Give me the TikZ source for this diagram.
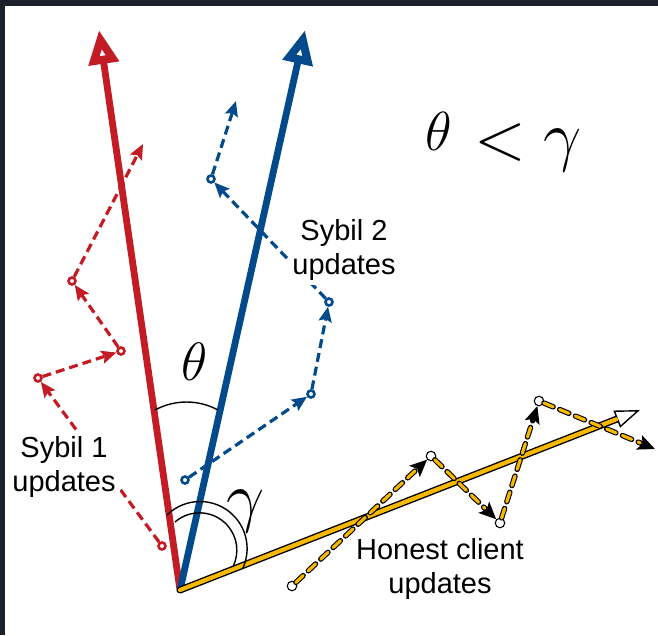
\RequirePackage{fix-cm}
\documentclass[tikz,border=0pt]{standalone}
\usepackage{fontspec}
\setmainfont{Liberation Sans}
\usetikzlibrary{arrows.meta}
\definecolor{sred}{RGB}{196,28,36}
\definecolor{sblue}{RGB}{2,74,140}
\definecolor{hyel}{RGB}{247,184,0}
\definecolor{framec}{RGB}{28,32,43}
\begin{document}
\begin{tikzpicture}[x=1pt,y=-1pt,
  mainvec/.style={line width=6.8pt, -{Triangle[length=34pt,width=29pt,line width=8pt,fill=white]}},
  syb/.style={line width=3.2pt, dash pattern=on 9pt off 5pt, -{Stealth[length=15pt,width=13pt,inset=2.5pt]}},
  sdot/.style={circle, draw, line width=2.6pt, fill=white, inner sep=0pt, minimum size=7pt},
  hdot/.style={circle, draw=black, line width=1.1pt, fill=white, inner sep=0pt, minimum size=9.5pt},
  hon/.style={draw=black, line width=5.4pt, dash pattern=on 10pt off 7pt, line cap=round,
    -{Stealth[length=17pt,width=15pt,inset=3.5pt]},
    postaction={draw=hyel, line width=3.2pt, dash pattern=on 10pt off 7pt, line cap=round, -, shorten >=16pt}},
  lab/.style={font=\fontsize{29}{34}\selectfont, align=center, fill=white, inner sep=4pt},
  ang/.style={line width=1.4pt, black}]
\useasboundingbox (0,0) rectangle (658,635);
\fill[white] (0,0) rectangle (658,635);
\fill[framec] (0,0) rectangle (658,6);
\fill[framec] (0,0) rectangle (5,635);

% points
\coordinate (O) at (180,590);
\coordinate (Rt) at (99,30);
\coordinate (Bt) at (305,30);
\coordinate (Yt) at (640,410);

% sybil 1 dots
\node[sdot, draw=sred] (R0) at (162,546) {};
\node[sdot, draw=sred] (R1) at (38,378) {};
\node[sdot, draw=sred] (R2) at (121,351) {};
\node[sdot, draw=sred] (R3) at (72,281) {};
\coordinate (R4) at (143,144);
% sybil 2 dots
\node[sdot, draw=sblue] (B0) at (185,480) {};
\node[sdot, draw=sblue] (B1) at (311,394) {};
\node[sdot, draw=sblue] (B2) at (329,302) {};
\node[sdot, draw=sblue] (B3) at (211,179) {};
\coordinate (B4) at (236,101);
% honest dots
\node[hdot] (H0) at (292,586) {};
\node[hdot] (H1) at (431,456) {};
\node[hdot] (H2) at (500,523) {};
\node[hdot] (H3) at (539,401) {};
\coordinate (H4) at (655,449);

% main sybil vectors
\draw[mainvec, sred] (O) -- (Rt);
\draw[mainvec, sblue] (O) -- (Bt);

% sybil updates
\draw[syb, sred] (R0) -- (R1);
\draw[syb, sred] (R1) -- (R2);
\draw[syb, sred] (R2) -- (R3);
\draw[syb, sred] (R3) -- (R4);
\draw[syb, sblue] (B0) -- (B1);
\draw[syb, sblue] (B1) -- (B2);
\draw[syb, sblue] (B2) -- (B3);
\draw[syb, sblue] (B3) -- (B4);

\node[lab] (s1) at (64,467) {Sybil 1\\updates};
\node[lab] (s2) at (344,250) {Sybil 2\\updates};

% honest aggregate
\draw[black, line width=7pt, line cap=round, -{Triangle[length=25pt,width=18pt,line width=1.4pt,fill=white]}] (O) -- (Yt);
\draw[hyel, line width=4.2pt, line cap=round, shorten >=25.5pt] (O) -- (Yt);

% honest updates
\draw[hon] (H0) -- (H1);
\draw[hon] (H1) -- (H2);
\draw[hon] (H2) -- (H3);
\draw[hon] (H3) -- (H4);

\node[lab] (hl) at (440,569) {Honest client\\updates};

% angles
\draw[ang] ([shift={(-118.5:65.9)}]186.5,467.9) arc[start angle=-118.5, end angle=-61.5, radius=65.9];
\draw[ang] ([shift={(-134.5:47.1)}]200,548.6) arc[start angle=-134.5, end angle=24.3, radius=47.1];
\draw[ang] ([shift={(-131:37.35)}]199.5,550.2) arc[start angle=-131, end angle=26.6, radius=37.35];

\node[inner sep=0pt, font=\fontsize{54}{60}\selectfont] (th) at (195,362) {$\theta$};
\node[inner sep=0pt, font=\fontsize{68}{74}\selectfont] (ga) at (246,511) {$\gamma$};

\node[inner sep=0pt, font=\fontsize{55}{60}\selectfont] (t2) at (439,131) {$\theta$};
\node[inner sep=0pt, font=\fontsize{68}{74}\selectfont] (lt) at (500,142) {$<$};
\node[inner sep=0pt, font=\fontsize{68}{74}\selectfont] (g2) at (563,150) {$\gamma$};
\end{tikzpicture}
\end{document}
